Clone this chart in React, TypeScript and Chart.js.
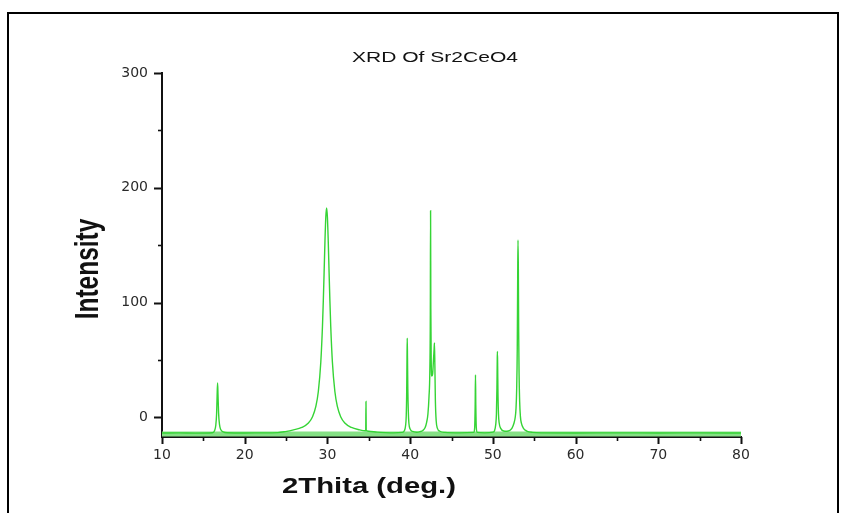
import React, { useEffect, useRef } from 'react';
import { Chart, registerables } from 'chart.js';

Chart.register(...registerables);

// ---- text ----
const CHART_TITLE = 'XRD Of Sr2CeO4';
const X_TITLE = '2Thita (deg.)';
const Y_TITLE = 'Intensity';

// ---- axes ----
const X_MIN = 10;
const X_MAX = 80;
const X_STEP = 5;
const X_LABEL_STEP = 10;
const Y_MIN = -17;
const Y_MAX = 300;
const Y_STEP = 50;
const Y_LABEL_STEP = 100;

// ---- XRD pattern (2θ in degrees, intensity) ----
const angle2Theta = [
  10, 12, 14, 16.1, 16.35, 16.5, 16.6, 16.66, 16.72, 16.77, 16.84, 16.95, 17.1, 17.4, 17.9,
  20, 22, 24, 24.9, 25.9, 26.9, 27.7, 28.2, 28.6, 28.9, 29.2, 29.4, 29.5, 29.6, 29.7, 29.8,
  29.9, 30.0, 30.1, 30.2, 30.3, 30.4, 30.6, 30.9, 31.2, 31.6, 32.1, 32.9, 33.9, 34.5, 34.63,
  34.66, 34.69, 35.0, 36, 37, 38, 39.0, 39.3, 39.45, 39.53, 39.58, 39.62, 39.65, 39.68, 39.72,
  39.78, 39.85, 40.0, 40.3, 40.8, 41.2, 41.5, 41.8, 42.0, 42.15, 42.28, 42.38, 42.44, 42.47,
  42.5, 42.55, 42.62, 42.72, 42.82, 42.9, 42.94, 42.99, 43.05, 43.15, 43.3, 43.6, 44.2, 46,
  47.7, 47.8, 47.86, 47.9, 47.94, 48.0, 48.1, 49, 50.0, 50.2, 50.35, 50.43, 50.49, 50.53, 50.55,
  50.58, 50.62, 50.68, 50.77, 50.95, 51.3, 51.7, 52.0, 52.3, 52.55, 52.7, 52.8, 52.88, 52.95,
  53.0, 53.04, 53.08, 53.12, 53.17, 53.24, 53.33, 53.45, 53.7, 54.1, 54.8, 56, 60, 65, 70, 75, 80,
];
const intensity = [
  -13.5, -13.4, -13.6, -13.3, -11.5, -7, 3, 18, 30, 20, 4, -6, -10.5, -12.5, -13.3,
  -13.5, -13.4, -13.2, -12.3, -10.8, -8.7, -4.8, 0.7, 9.6, 22.6, 48.3, 79.5, 101.2, 126.6, 153, 174.2,
  182.5, 174.2, 153, 126.6, 101.2, 79.5, 48.3, 22.6, 9.6, 0.7, -4.8, -8.7, -10.8, -11.6, -11.5,
  14, -11.5, -12, -12.8, -13.2, -13.4, -13, -11.5, -7, 2, 20, 52, 69, 52, 25,
  5, -5, -10, -12.2, -12.8, -12.3, -11.5, -9, -4, 3, 18, 40, 90, 180,
  95, 48, 36, 38, 50, 60, 65, 45, 15, -3, -9.5, -12, -13, -13.4,
  -13, -9, 10, 37, 10, -9, -13, -13.4, -12.8, -11.5, -6, 3, 25, 50, 57.5,
  45, 20, 3, -5, -9.5, -11.8, -12, -11.5, -9.5, -5, 0, 8, 25, 60,
  120, 154.5, 130, 75, 38, 14, 1, -5, -9.5, -11.8, -13, -13.4, -13.5, -13.4, -13.5, -13.4, -13.5,
];

// background band along the baseline
const bandX = [10, 80];
const bandY = [-14.3, -14.3];

const tickMarks = {
  id: 'tickMarks',
  afterDraw(chart: any) {
    const { ctx, chartArea, scales } = chart;
    ctx.save();
    ctx.strokeStyle = '#111';
    const xs = scales.x;
    for (const t of xs.ticks) {
      const px = Math.round(xs.getPixelForValue(t.value)) + 0.5;
      const major = t.value % X_LABEL_STEP === 0;
      ctx.lineWidth = major ? 2 : 1.6;
      ctx.beginPath();
      ctx.moveTo(px, chartArea.bottom);
      ctx.lineTo(px, chartArea.bottom + (major ? 7 : 4));
      ctx.stroke();
    }
    const ys = scales.y;
    for (const t of ys.ticks) {
      const py = Math.round(ys.getPixelForValue(t.value)) + 0.5;
      const major = t.value % Y_LABEL_STEP === 0;
      ctx.lineWidth = major ? 2 : 1.6;
      ctx.beginPath();
      ctx.moveTo(chartArea.left, py);
      ctx.lineTo(chartArea.left - (major ? 8 : 4), py);
      ctx.stroke();
    }
    ctx.restore();
  },
};

const titles = {
  id: 'titles',
  afterDraw(chart: any) {
    const { ctx } = chart;
    const draw = (text: string, font: string, x: number, y: number, targetW: number, rotate: boolean) => {
      ctx.save();
      ctx.font = font;
      ctx.fillStyle = '#111';
      ctx.textAlign = 'center';
      ctx.textBaseline = 'alphabetic';
      ctx.translate(x, y);
      if (rotate) {
        ctx.rotate(-Math.PI / 2);
        ctx.scale(1, 1.35);
      } else {
        const w = ctx.measureText(text).width;
        ctx.scale(targetW / w, 1);
      }
      ctx.fillText(text, 0, 0);
      ctx.restore();
    };
    draw(CHART_TITLE, '15px "Liberation Sans", Arial, sans-serif', 435, 62, 166, false);
    draw(X_TITLE, 'bold 22px "Liberation Sans", Arial, sans-serif', 369, 493, 174, false);
    draw(Y_TITLE, 'bold 24.5px "Liberation Sans", Arial, sans-serif', 98, 269, 0, true);
  },
};

export default function App() {
  const ref = useRef<HTMLCanvasElement>(null);
  useEffect(() => {
    const chart = new Chart(ref.current as HTMLCanvasElement, {
      type: 'line',
      data: {
        datasets: [
          {
            label: 'Sr2CeO4',
            data: angle2Theta.map((x, i) => ({ x, y: intensity[i] })),
            borderColor: '#35d435',
            borderWidth: 1.4,
            pointRadius: 0,
            cubicInterpolationMode: 'monotone',
            order: 1,
          },
          {
            label: 'band',
            data: bandX.map((x, i) => ({ x, y: bandY[i] })),
            borderColor: '#85e085',
            borderWidth: 5,
            pointRadius: 0,
            order: 2,
          },
        ],
      },
      options: {
        animation: false,
        responsive: false,
        devicePixelRatio: 1,
        layout: { padding: { left: 0, right: 105, top: 73, bottom: 0 } },
        plugins: {
          legend: { display: false },
          tooltip: { enabled: false },
          title: { display: false },
        },
        scales: {
          x: {
            type: 'linear',
            min: X_MIN,
            max: X_MAX,
            border: { display: true, color: '#111', width: 2 },
            grid: { display: true, drawOnChartArea: false, drawTicks: true, tickLength: 7, color: 'rgba(0,0,0,0)' },
            ticks: {
              stepSize: X_STEP,
              autoSkip: false,
              maxRotation: 0,
              padding: 3,
              color: '#2a2a2a',
              font: { family: '"DejaVu Sans", sans-serif', size: 14 },
              callback: (v: any) => (Number(v) % X_LABEL_STEP === 0 ? String(v) : ''),
            },
            afterFit: (s: any) => {
              s.height = 76;
            },
          },
          y: {
            type: 'linear',
            min: Y_MIN,
            max: Y_MAX,
            border: { display: true, color: '#111', width: 2 },
            grid: { display: true, drawOnChartArea: false, drawTicks: true, tickLength: 8, color: 'rgba(0,0,0,0)' },
            afterBuildTicks: (axis: any) => {
              axis.ticks = axis.ticks.filter((t: any) => t.value >= 0 && t.value % Y_STEP === 0);
            },
            ticks: {
              stepSize: Y_STEP,
              autoSkip: false,
              padding: 6,
              color: '#2a2a2a',
              font: { family: '"DejaVu Sans", sans-serif', size: 14 },
              callback: (v: any) => (Number(v) % Y_LABEL_STEP === 0 ? String(v) : ''),
            },
            afterFit: (s: any) => {
              s.width = 162;
            },
          },
        },
      },
      plugins: [tickMarks, titles],
    } as any);
    return () => chart.destroy();
  }, []);

  return (
    <div>
      <canvas ref={ref} width={846} height={513} style={{ position: 'absolute', left: 0, top: 0 }} />
      <div
        style={{
          position: 'absolute',
          left: 7,
          top: 12,
          width: 832,
          height: 501,
          boxSizing: 'border-box',
          borderLeft: '2px solid #000',
          borderTop: '2px solid #000',
          borderRight: '2px solid #000',
          pointerEvents: 'none',
        }}
      />
    </div>
  );
}
